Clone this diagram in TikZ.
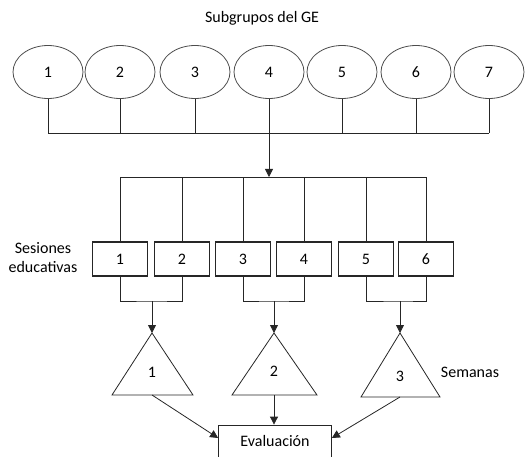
\documentclass[tikz,border=0pt]{standalone}
\usepackage{fontspec}
\setmainfont{Carlito}
\usetikzlibrary{arrows.meta,shapes.geometric}
\begin{document}
\begin{tikzpicture}[x=1pt,y=-1pt,
  font=\fontsize{16}{19}\selectfont,
  line/.style={draw=black!85, line width=0.8pt},
  arr/.style={line, -{Triangle[length=8pt,width=8pt]}},
  grp/.style={line, draw=black!70, ellipse, minimum width=70pt, minimum height=53pt, inner sep=0pt},
  sess/.style={line, line width=1.2pt, rectangle, minimum width=55pt, minimum height=34pt, inner sep=0pt},
  tri/.style={line, line join=miter}]
\useasboundingbox (0,0) rectangle (530,457);
\node at (262,18) {Subgrupos del GE};
% ellipses
\foreach \i/\x in {1/48,2/120,3/195,4/269,5/342,6/416,7/489}
  \node[grp] (e\i) at (\x,72) {\i};
\coordinate (busL) at (48,133);
\coordinate (busR) at (489,133);
\draw[line] (busL) -- (busR);
\foreach \i in {1,2,3,5,6,7}
  \draw[line] (e\i.south) -- (e\i.south |- busL);
% sessions
\foreach \i/\x in {1/120,2/182,3/243,4/304,5/366,6/426}
  \node[sess] (b\i) at (\x,259) {\i};
% session bar
\coordinate (sbarL) at (120,177);
\coordinate (sbarR) at (426,177);
\draw[arr] (e4.south) -- (e4.south |- sbarL);
\draw[line] (sbarL) -- (sbarR);
\foreach \i in {1,...,6}
  \draw[line] (b\i.north) -- (b\i.north |- sbarL);
\node[align=center, font=\fontsize{16}{19}\selectfont] (ses) at (43,258) {Sesiones\\educativas};
% triangles
\coordinate (t1a) at (152,333); \coordinate (t1b) at (152,395);
\coordinate (t2a) at (274,333); \coordinate (t2b) at (274,395);
\coordinate (t3a) at (400,333); \coordinate (t3b) at (400,397);
\draw[tri] (t1a) -- (112,395) -- (193,395) -- cycle;
\draw[tri] (t2a) -- (232,395) -- (317,395) -- cycle;
\draw[tri] (t3a) -- (361,397) -- (440,397) -- cycle;
\node (n1) at (152,372) {1};
\node (n2) at (274,371) {2};
\node (n3) at (400,376) {3};
\node (sem) at (470,372) {Semanas};
% brackets
\coordinate (g1) at (152,301);
\coordinate (g2) at (274,301);
\coordinate (g3) at (400,301);
\draw[line] (b1.south) |- (g1) -| (b2.south);
\draw[line] (b3.south) |- (g2) -| (b4.south);
\draw[line] (b5.south) |- (g3) -| (b6.south);
\draw[arr] (g1) -- (t1a);
\draw[arr] (g2) -- (t2a);
\draw[arr] (g3) -- (t3a);
% evaluation
\node[line, rectangle, minimum width=113pt, minimum height=38pt, inner sep=0pt] (ev) at (275,444) {};
\node at (275,441) {Evaluación};
\draw[arr] (t1b) -- (ev.west |- 0,438);
\draw[arr] (t2b) -- (t2b |- ev.north);
\draw[arr] (t3b) -- (ev.east |- 0,438);
\end{tikzpicture}
\end{document}
